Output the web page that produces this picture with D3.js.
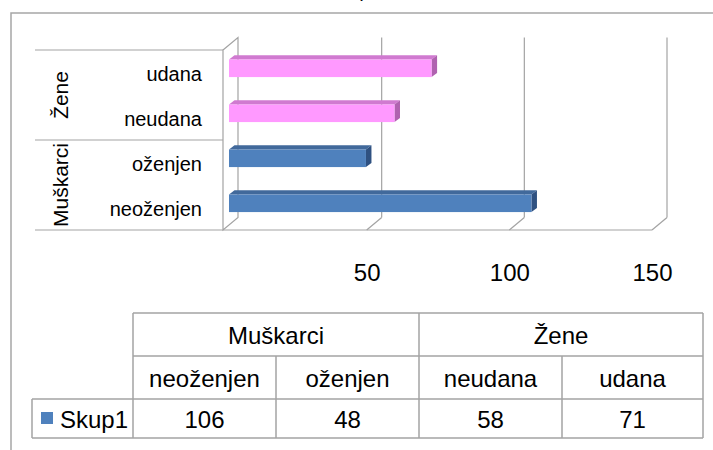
<!DOCTYPE html>
<html>
<head>
<meta charset="utf-8">
<script src="https://cdn.jsdelivr.net/npm/d3@7"></script>
<style>
  body { margin: 0; background: #fff; }
  svg { display: block; font-family: "Liberation Sans", Arial, sans-serif; }
</style>
</head>
<body>
<div class="chart"></div>
<script>
// data
const categories = ["neoženjen", "oženjen", "neudana", "udana"];
const categoryGroup = ["Muškarci", "Muškarci", "Žene", "Žene"];
const groups = ["Muškarci", "Žene"];
const values = [106, 48, 58, 71];
const seriesName = "Skup1";
const tickValues = [50, 100, 150];

const w = 713;
const h = 450;
const grid = "#a3a3a3";
const depth = {dx: 15, dy: -12.5};
const barOff = {dx: 5, dy: -4.2};
const barDepth = {dx: 5.5, dy: -4.2};
const colors = {
  "Muškarci": {front: "#4f81bd", top: "#41699b", side: "#2f5181"},
  "Žene": {front: "#ff99ff", top: "#d07ad0", side: "#b062b0"}
};

let svg = d3.select(".chart").append("svg")
  .attr("width", w)
  .attr("height", h);

// outer frame
svg.append("rect")
  .attr("x", 11).attr("y", 13)
  .attr("width", 740).attr("height", 480)
  .attr("fill", "none").attr("stroke", "#a6a6a6").attr("stroke-width", 1.5);

// cut-off title (only the descender shows)
svg.append("text").text(",")
  .attr("x", 359).attr("y", -2)
  .attr("font-size", 20).attr("font-weight", "bold")
  .attr("fill", "#000");

let xScale = d3.scaleLinear().domain([0, 150]).range([224, 652]);
let yScale = d3.scaleBand().domain(categories).range([230, 50]);

// back wall gridlines and floor
let gridG = svg.append("g").attr("stroke", grid).attr("stroke-width", 1.2).attr("fill", "none");
tickValues.forEach(v => {
  let x = xScale(v);
  gridG.append("line")
    .attr("x1", x + depth.dx).attr("x2", x + depth.dx)
    .attr("y1", 37.5).attr("y2", 230 + depth.dy);
  gridG.append("line")
    .attr("x1", x).attr("y1", 230)
    .attr("x2", x + depth.dx).attr("y2", 230 + depth.dy);
});
gridG.append("line")
  .attr("x1", xScale(0) - 1).attr("x2", xScale(150)).attr("y1", 230).attr("y2", 230);

// side wall
let x0 = xScale(0) - 1;
gridG.append("path")
  .attr("d", `M${x0},50 L${x0 + depth.dx},37.5 L${x0 + depth.dx},${230 + depth.dy} L${x0},230 Z`)
  .attr("fill", "#fff");

// bars
let bars = svg.append("g");
categories.forEach((c, i) => {
  let col = colors[categoryGroup[i]];
  let xa = xScale(0) + barOff.dx;
  let xb = xScale(values[i]) + barOff.dx;
  let bh = yScale.bandwidth() * 0.39;
  let yt = yScale(c) + yScale.bandwidth() / 2 + barOff.dy - bh / 2;
  let yb = yt + bh;
  bars.append("path")
    .attr("d", `M${xa},${yt} L${xb},${yt} L${xb + barDepth.dx},${yt + barDepth.dy} L${xa + barDepth.dx},${yt + barDepth.dy} Z`)
    .attr("fill", col.top);
  bars.append("path")
    .attr("d", `M${xb},${yt} L${xb + barDepth.dx},${yt + barDepth.dy} L${xb + barDepth.dx},${yb + barDepth.dy} L${xb},${yb} Z`)
    .attr("fill", col.side);
  bars.append("rect")
    .attr("x", xa).attr("y", yt)
    .attr("width", xb - xa).attr("height", bh)
    .attr("fill", col.front);
});

// category labels
let catG = svg.append("g");
categories.forEach(c => {
  catG.append("text").text(c)
    .attr("x", 202)
    .attr("y", yScale(c) + yScale.bandwidth() / 2 + 1)
    .attr("text-anchor", "end")
    .attr("dominant-baseline", "central")
    .attr("font-size", 20)
    .attr("fill", "#000");
});

// group separators and labels
let lineYs = [50, 230];
groups.forEach(g => {
  let cs = categories.filter((c, i) => categoryGroup[i] == g);
  let ys = cs.map(c => yScale(c));
  let top = d3.min(ys);
  let bottom = d3.max(ys) + yScale.bandwidth();
  lineYs.push(top, bottom);
  catG.append("text").text(g)
    .attr("transform", `translate(60,${(top + bottom) / 2}) rotate(-90)`)
    .attr("text-anchor", "middle")
    .attr("dominant-baseline", "central")
    .attr("font-size", 21)
    .attr("fill", "#000");
});
Array.from(new Set(lineYs)).forEach(y => {
  catG.append("line")
    .attr("x1", 35).attr("x2", x0)
    .attr("y1", y).attr("y2", y)
    .attr("stroke", grid).attr("stroke-width", 1.2);
});

// value axis labels
const xAxis = d3.axisBottom(xScale).tickValues(tickValues).tickSize(0).tickPadding(0);
let axG = svg.append("g")
  .attr("transform", "translate(0,272)")
  .call(xAxis);
axG.select(".domain").remove();
axG.selectAll("text")
  .attr("dy", null)
  .attr("y", 0)
  .attr("dominant-baseline", "central")
  .attr("font-size", 24)
  .attr("font-family", "Liberation Sans, Arial, sans-serif")
  .attr("fill", "#000");

// data table
const colX = [133, 276, 419, 562, 703];
const rowY = [313, 356, 399, 438];
let tbl = svg.append("g");
let tl = tbl.append("g").attr("stroke", grid).attr("stroke-width", 1.5);
rowY.forEach(y => tl.append("line").attr("x1", colX[0]).attr("x2", colX[4]).attr("y1", y).attr("y2", y));
tl.append("line").attr("x1", 32).attr("x2", colX[0]).attr("y1", rowY[2]).attr("y2", rowY[2]);
tl.append("line").attr("x1", 32).attr("x2", colX[0]).attr("y1", rowY[3]).attr("y2", rowY[3]);
tl.append("line").attr("x1", 32).attr("x2", 32).attr("y1", rowY[2]).attr("y2", rowY[3]);
colX.forEach((x, i) => {
  let y1 = (i == 0 || i == 2 || i == 4) ? rowY[0] : rowY[1];
  tl.append("line").attr("x1", x).attr("x2", x).attr("y1", y1).attr("y2", rowY[3]);
});

let cellText = (txt, x, y) => tbl.append("text").text(txt)
  .attr("x", x).attr("y", y)
  .attr("text-anchor", "middle")
  .attr("dominant-baseline", "central")
  .attr("font-size", 24)
  .attr("fill", "#000");

groups.forEach((g, gi) => {
  cellText(g, (colX[gi * 2] + colX[gi * 2 + 2]) / 2, (rowY[0] + rowY[1]) / 2 + 1);
});
categories.forEach((c, i) => {
  cellText(c, (colX[i] + colX[i + 1]) / 2, (rowY[1] + rowY[2]) / 2 + 1);
  cellText(values[i], (colX[i] + colX[i + 1]) / 2, (rowY[2] + rowY[3]) / 2 + 1);
});

// legend key
tbl.append("rect")
  .attr("x", 41).attr("y", 412)
  .attr("width", 12).attr("height", 12)
  .attr("fill", colors["Muškarci"].front);
tbl.append("text").text(seriesName)
  .attr("x", 60).attr("y", (rowY[2] + rowY[3]) / 2 + 1)
  .attr("dominant-baseline", "central")
  .attr("font-size", 24)
  .attr("fill", "#000");
</script>
</body>
</html>
